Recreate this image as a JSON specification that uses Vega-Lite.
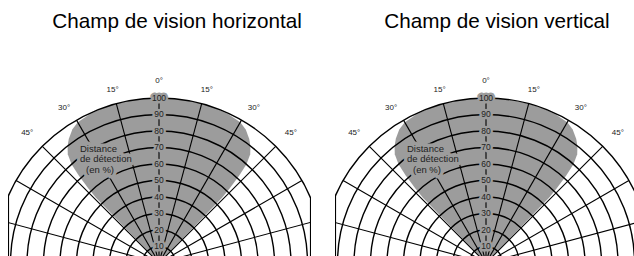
{
  "$schema": "https://vega.github.io/schema/vega-lite/v6.json",
  "padding": {"left": 8, "top": 11, "right": 0, "bottom": 0},
  "spacing": 24,
  "config": {
    "view": {"stroke": null},
    "font": "Liberation Sans",
    "title": {"font": "Liberation Sans", "fontSize": 20.7, "fontWeight": "normal", "color": "#000000", "anchor": "middle", "baseline": "alphabetic", "offset": 13}
  },
  "datasets": {
    "lobe": [
      {"y": 0, "xl": 0, "xr": 0}, {"y": 39.56, "xl": -38.21, "xr": 38.21}, {"y": 44.97, "xl": -42.68, "xr": 42.68},
      {"y": 53.08, "xl": -48.65, "xr": 48.65}, {"y": 59.92, "xl": -53.01, "xr": 53.01}, {"y": 65.88, "xl": -55.28, "xr": 55.28},
      {"y": 70.92, "xl": -55.41, "xr": 55.41}, {"y": 75.24, "xl": -54.66, "xr": 54.66}, {"y": 80.93, "xl": -52.56, "xr": 52.56},
      {"y": 85.3, "xl": -49.25, "xr": 49.25}, {"y": 90.18, "xl": -42.05, "xr": 42.05}, {"y": 93.97, "xl": -34.2, "xr": 34.2},
      {"y": 96.59, "xl": -25.88, "xr": 25.88}, {"y": 98.48, "xl": -17.36, "xr": 17.36}, {"y": 99.62, "xl": -8.72, "xr": 8.72},
      {"y": 100, "xl": 0, "xr": 0}
    ],
    "rings": [{"r": 10}, {"r": 20}, {"r": 30}, {"r": 40}, {"r": 50}, {"r": 60}, {"r": 70}, {"r": 80}, {"r": 90}, {"r": 100}],
    "spokes": [
      {"x0": 0, "y0": 0, "x1": -96.59, "y1": 25.88}, {"x0": 0, "y0": 0, "x1": -86.6, "y1": 50}, {"x0": 0, "y0": 0, "x1": -70.71, "y1": 70.71},
      {"x0": 0, "y0": 0, "x1": -50, "y1": 86.6}, {"x0": 0, "y0": 0, "x1": -25.88, "y1": 96.59}, {"x0": 0, "y0": 0, "x1": 0, "y1": 100},
      {"x0": 0, "y0": 0, "x1": 25.88, "y1": 96.59}, {"x0": 0, "y0": 0, "x1": 50, "y1": 86.6}, {"x0": 0, "y0": 0, "x1": 70.71, "y1": 70.71},
      {"x0": 0, "y0": 0, "x1": 86.6, "y1": 50}, {"x0": 0, "y0": 0, "x1": 96.59, "y1": 25.88}
    ],
    "edges": [{"x0": -91.2, "y0": 0, "x1": -91.2, "y1": 41}, {"x0": 91.8, "y0": 0, "x1": 91.8, "y1": 39.7}],
    "edgesR": [{"x0": -91.2, "y0": 0, "x1": -91.2, "y1": 41}],
    "axisLabels": [
      {"t": "10", "a": 0, "r": 10}, {"t": "20", "a": 0, "r": 20}, {"t": "30", "a": 0, "r": 30}, {"t": "40", "a": 0, "r": 40},
      {"t": "50", "a": 0, "r": 50}, {"t": "60", "a": 0, "r": 60}, {"t": "70", "a": 0, "r": 70}, {"t": "80", "a": 0, "r": 80},
      {"t": "90", "a": 0, "r": 90}, {"t": "100", "a": 0, "r": 100}
    ],
    "angleLabels": [
      {"t": "0°", "a": 0, "r": 110}, {"t": "15°", "a": -15, "r": 108.5}, {"t": "15°", "a": 15.5, "r": 108.5},
      {"t": "30°", "a": -31.5, "r": 110}, {"t": "30°", "a": 31.5, "r": 110}, {"t": "45°", "a": -45.5, "r": 112}, {"t": "45°", "a": 45.5, "r": 112}
    ],
    "note": [
      {"t": "Distance", "a": -34.7, "r": 84.1}, {"t": "de détection", "a": -37.2, "r": 79.2}, {"t": "(en %)", "a": -38.1, "r": 71.7}
    ]
  },
  "hconcat": [
    {
      "width": 303, "height": 216,
      "title": {"text": "Champ de vision horizontal", "dx": 17.5},
      "layer": [
        {"data": {"name": "lobe"}, "mark": {"type": "area", "orient": "horizontal", "color": "#9c9c9c", "opacity": 1, "clip": true},
         "encoding": {"x": {"field": "xl", "type": "quantitative", "scale": {"domain": [-91.52, 92.12], "nice": false, "zero": false}, "axis": null},
                      "x2": {"field": "xr"},
                      "y": {"field": "y", "type": "quantitative", "scale": {"domain": [0.606, 131.52], "nice": false, "zero": false}, "axis": null}}},
        {"data": {"name": "rings"}, "mark": {"type": "arc", "filled": false, "color": "#000000", "strokeWidth": 1.4, "clip": true, "theta": -1.5708, "theta2": 1.5708},
         "encoding": {"x": {"datum": 0, "type": "quantitative", "scale": {"domain": [-91.52, 92.12], "nice": false, "zero": false}, "axis": null},
                      "y": {"datum": 0, "type": "quantitative", "scale": {"domain": [0.606, 131.52], "nice": false, "zero": false}, "axis": null},
                      "radius": {"field": "r", "type": "quantitative", "scale": {"type": "linear", "domain": [0, 100], "range": [0, 165], "zero": true, "nice": false}},
                      "radius2": {"field": "r"}}},
        {"data": {"name": "spokes"}, "mark": {"type": "rule", "color": "#000000", "strokeWidth": 1.1, "clip": true},
         "encoding": {"x": {"field": "x0", "type": "quantitative", "scale": {"domain": [-91.52, 92.12], "nice": false, "zero": false}, "axis": null},
                      "y": {"field": "y0", "type": "quantitative", "scale": {"domain": [0.606, 131.52], "nice": false, "zero": false}, "axis": null},
                      "x2": {"field": "x1"}, "y2": {"field": "y1"}}},
        {"data": {"name": "edges"}, "mark": {"type": "rule", "color": "#000000", "strokeWidth": 1.1, "clip": true},
         "encoding": {"x": {"field": "x0", "type": "quantitative", "scale": {"domain": [-91.52, 92.12], "nice": false, "zero": false}, "axis": null},
                      "y": {"field": "y0", "type": "quantitative", "scale": {"domain": [0.606, 131.52], "nice": false, "zero": false}, "axis": null},
                      "x2": {"field": "x1"}, "y2": {"field": "y1"}}},
        {"data": {"name": "axisLabels"}, "mark": {"type": "text", "fontSize": 8.5, "color": "#9c9c9c", "stroke": "#9c9c9c", "strokeWidth": 5, "strokeJoin": "round", "align": "center", "baseline": "middle"},
         "encoding": {"x": {"datum": 0, "type": "quantitative", "scale": {"domain": [-91.52, 92.12], "nice": false, "zero": false}, "axis": null},
                      "y": {"datum": 0, "type": "quantitative", "scale": {"domain": [0.606, 131.52], "nice": false, "zero": false}, "axis": null},
                      "text": {"field": "t"},
                      "theta": {"field": "a", "type": "quantitative", "stack": null, "scale": {"type": "linear", "domain": [-180, 180], "range": [-3.14159265, 3.14159265]}},
                      "radius": {"field": "r", "type": "quantitative", "scale": {"type": "linear", "domain": [0, 100], "range": [0, 165], "zero": true, "nice": false}}}},
        {"data": {"name": "axisLabels"}, "mark": {"type": "text", "fontSize": 8.5, "color": "#222222", "align": "center", "baseline": "middle"},
         "encoding": {"x": {"datum": 0, "type": "quantitative", "scale": {"domain": [-91.52, 92.12], "nice": false, "zero": false}, "axis": null},
                      "y": {"datum": 0, "type": "quantitative", "scale": {"domain": [0.606, 131.52], "nice": false, "zero": false}, "axis": null},
                      "text": {"field": "t"},
                      "theta": {"field": "a", "type": "quantitative", "stack": null, "scale": {"type": "linear", "domain": [-180, 180], "range": [-3.14159265, 3.14159265]}},
                      "radius": {"field": "r", "type": "quantitative", "scale": {"type": "linear", "domain": [0, 100], "range": [0, 165], "zero": true, "nice": false}}}},
        {"data": {"name": "note"}, "mark": {"type": "text", "fontSize": 9.5, "color": "#9c9c9c", "stroke": "#9c9c9c", "strokeWidth": 7, "strokeJoin": "round", "align": "left", "baseline": "middle"},
         "encoding": {"x": {"datum": 0, "type": "quantitative", "scale": {"domain": [-91.52, 92.12], "nice": false, "zero": false}, "axis": null},
                      "y": {"datum": 0, "type": "quantitative", "scale": {"domain": [0.606, 131.52], "nice": false, "zero": false}, "axis": null},
                      "text": {"field": "t"},
                      "theta": {"field": "a", "type": "quantitative", "stack": null, "scale": {"type": "linear", "domain": [-180, 180], "range": [-3.14159265, 3.14159265]}},
                      "radius": {"field": "r", "type": "quantitative", "scale": {"type": "linear", "domain": [0, 100], "range": [0, 165], "zero": true, "nice": false}}}},
        {"data": {"name": "note"}, "mark": {"type": "text", "fontSize": 9.5, "color": "#222222", "align": "left", "baseline": "middle"},
         "encoding": {"x": {"datum": 0, "type": "quantitative", "scale": {"domain": [-91.52, 92.12], "nice": false, "zero": false}, "axis": null},
                      "y": {"datum": 0, "type": "quantitative", "scale": {"domain": [0.606, 131.52], "nice": false, "zero": false}, "axis": null},
                      "text": {"field": "t"},
                      "theta": {"field": "a", "type": "quantitative", "stack": null, "scale": {"type": "linear", "domain": [-180, 180], "range": [-3.14159265, 3.14159265]}},
                      "radius": {"field": "r", "type": "quantitative", "scale": {"type": "linear", "domain": [0, 100], "range": [0, 165], "zero": true, "nice": false}}}},
        {"data": {"name": "angleLabels"}, "mark": {"type": "text", "fontSize": 8, "color": "#222222", "align": "center", "baseline": "middle"},
         "encoding": {"x": {"datum": 0, "type": "quantitative", "scale": {"domain": [-91.52, 92.12], "nice": false, "zero": false}, "axis": null},
                      "y": {"datum": 0, "type": "quantitative", "scale": {"domain": [0.606, 131.52], "nice": false, "zero": false}, "axis": null},
                      "text": {"field": "t"},
                      "theta": {"field": "a", "type": "quantitative", "stack": null, "scale": {"type": "linear", "domain": [-180, 180], "range": [-3.14159265, 3.14159265]}},
                      "radius": {"field": "r", "type": "quantitative", "scale": {"type": "linear", "domain": [0, 100], "range": [0, 165], "zero": true, "nice": false}}}}
      ]
    },
    {
      "width": 299, "height": 216,
      "title": {"text": "Champ de vision vertical", "dx": 12.5},
      "layer": [
        {"data": {"name": "lobe"}, "mark": {"type": "area", "orient": "horizontal", "color": "#9c9c9c", "opacity": 1, "clip": true},
         "encoding": {"x": {"field": "xl", "type": "quantitative", "scale": {"domain": [-91.52, 89.7], "nice": false, "zero": false}, "axis": null},
                      "x2": {"field": "xr"},
                      "y": {"field": "y", "type": "quantitative", "scale": {"domain": [0.606, 131.52], "nice": false, "zero": false}, "axis": null}}},
        {"data": {"name": "rings"}, "mark": {"type": "arc", "filled": false, "color": "#000000", "strokeWidth": 1.4, "clip": true, "theta": -1.5708, "theta2": 1.5708},
         "encoding": {"x": {"datum": 0, "type": "quantitative", "scale": {"domain": [-91.52, 89.7], "nice": false, "zero": false}, "axis": null},
                      "y": {"datum": 0, "type": "quantitative", "scale": {"domain": [0.606, 131.52], "nice": false, "zero": false}, "axis": null},
                      "radius": {"field": "r", "type": "quantitative", "scale": {"type": "linear", "domain": [0, 100], "range": [0, 165], "zero": true, "nice": false}},
                      "radius2": {"field": "r"}}},
        {"data": {"name": "spokes"}, "mark": {"type": "rule", "color": "#000000", "strokeWidth": 1.1, "clip": true},
         "encoding": {"x": {"field": "x0", "type": "quantitative", "scale": {"domain": [-91.52, 89.7], "nice": false, "zero": false}, "axis": null},
                      "y": {"field": "y0", "type": "quantitative", "scale": {"domain": [0.606, 131.52], "nice": false, "zero": false}, "axis": null},
                      "x2": {"field": "x1"}, "y2": {"field": "y1"}}},
        {"data": {"name": "edgesR"}, "mark": {"type": "rule", "color": "#000000", "strokeWidth": 1.1, "clip": true},
         "encoding": {"x": {"field": "x0", "type": "quantitative", "scale": {"domain": [-91.52, 89.7], "nice": false, "zero": false}, "axis": null},
                      "y": {"field": "y0", "type": "quantitative", "scale": {"domain": [0.606, 131.52], "nice": false, "zero": false}, "axis": null},
                      "x2": {"field": "x1"}, "y2": {"field": "y1"}}},
        {"data": {"name": "axisLabels"}, "mark": {"type": "text", "fontSize": 8.5, "color": "#9c9c9c", "stroke": "#9c9c9c", "strokeWidth": 5, "strokeJoin": "round", "align": "center", "baseline": "middle"},
         "encoding": {"x": {"datum": 0, "type": "quantitative", "scale": {"domain": [-91.52, 89.7], "nice": false, "zero": false}, "axis": null},
                      "y": {"datum": 0, "type": "quantitative", "scale": {"domain": [0.606, 131.52], "nice": false, "zero": false}, "axis": null},
                      "text": {"field": "t"},
                      "theta": {"field": "a", "type": "quantitative", "stack": null, "scale": {"type": "linear", "domain": [-180, 180], "range": [-3.14159265, 3.14159265]}},
                      "radius": {"field": "r", "type": "quantitative", "scale": {"type": "linear", "domain": [0, 100], "range": [0, 165], "zero": true, "nice": false}}}},
        {"data": {"name": "axisLabels"}, "mark": {"type": "text", "fontSize": 8.5, "color": "#222222", "align": "center", "baseline": "middle"},
         "encoding": {"x": {"datum": 0, "type": "quantitative", "scale": {"domain": [-91.52, 89.7], "nice": false, "zero": false}, "axis": null},
                      "y": {"datum": 0, "type": "quantitative", "scale": {"domain": [0.606, 131.52], "nice": false, "zero": false}, "axis": null},
                      "text": {"field": "t"},
                      "theta": {"field": "a", "type": "quantitative", "stack": null, "scale": {"type": "linear", "domain": [-180, 180], "range": [-3.14159265, 3.14159265]}},
                      "radius": {"field": "r", "type": "quantitative", "scale": {"type": "linear", "domain": [0, 100], "range": [0, 165], "zero": true, "nice": false}}}},
        {"data": {"name": "note"}, "mark": {"type": "text", "fontSize": 9.5, "color": "#9c9c9c", "stroke": "#9c9c9c", "strokeWidth": 7, "strokeJoin": "round", "align": "left", "baseline": "middle"},
         "encoding": {"x": {"datum": 0, "type": "quantitative", "scale": {"domain": [-91.52, 89.7], "nice": false, "zero": false}, "axis": null},
                      "y": {"datum": 0, "type": "quantitative", "scale": {"domain": [0.606, 131.52], "nice": false, "zero": false}, "axis": null},
                      "text": {"field": "t"},
                      "theta": {"field": "a", "type": "quantitative", "stack": null, "scale": {"type": "linear", "domain": [-180, 180], "range": [-3.14159265, 3.14159265]}},
                      "radius": {"field": "r", "type": "quantitative", "scale": {"type": "linear", "domain": [0, 100], "range": [0, 165], "zero": true, "nice": false}}}},
        {"data": {"name": "note"}, "mark": {"type": "text", "fontSize": 9.5, "color": "#222222", "align": "left", "baseline": "middle"},
         "encoding": {"x": {"datum": 0, "type": "quantitative", "scale": {"domain": [-91.52, 89.7], "nice": false, "zero": false}, "axis": null},
                      "y": {"datum": 0, "type": "quantitative", "scale": {"domain": [0.606, 131.52], "nice": false, "zero": false}, "axis": null},
                      "text": {"field": "t"},
                      "theta": {"field": "a", "type": "quantitative", "stack": null, "scale": {"type": "linear", "domain": [-180, 180], "range": [-3.14159265, 3.14159265]}},
                      "radius": {"field": "r", "type": "quantitative", "scale": {"type": "linear", "domain": [0, 100], "range": [0, 165], "zero": true, "nice": false}}}},
        {"data": {"name": "angleLabels"}, "mark": {"type": "text", "fontSize": 8, "color": "#222222", "align": "center", "baseline": "middle"},
         "encoding": {"x": {"datum": 0, "type": "quantitative", "scale": {"domain": [-91.52, 89.7], "nice": false, "zero": false}, "axis": null},
                      "y": {"datum": 0, "type": "quantitative", "scale": {"domain": [0.606, 131.52], "nice": false, "zero": false}, "axis": null},
                      "text": {"field": "t"},
                      "theta": {"field": "a", "type": "quantitative", "stack": null, "scale": {"type": "linear", "domain": [-180, 180], "range": [-3.14159265, 3.14159265]}},
                      "radius": {"field": "r", "type": "quantitative", "scale": {"type": "linear", "domain": [0, 100], "range": [0, 165], "zero": true, "nice": false}}}}
      ]
    }
  ]
}
